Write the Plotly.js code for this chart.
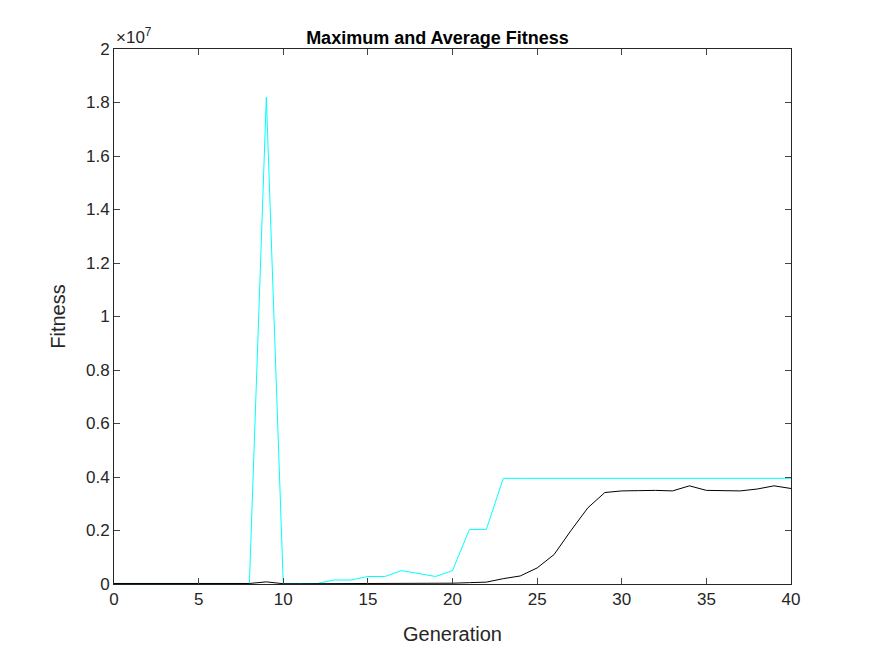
<!DOCTYPE html>
<html><head><script src="https://cdn.plot.ly/plotly-3.0.1.min.js"></script></head>
<body style="margin:0">
<div id="c" style="width:875px;height:656px"></div>
<script>
const generations = Array.from({length:41},(_,i)=>i);
const maxFitness = [0.02,0.02,0.02,0.02,0.02,0.02,0.02,0.02,0.02,18.2,0.02,0.02,0.02,0.15,0.15,0.28,0.28,0.5,0.4,0.28,0.5,2.04,2.04,3.95,3.95,3.95,3.95,3.95,3.95,3.95,3.95,3.95,3.95,3.95,3.95,3.95,3.95,3.95,3.95,3.95,3.95].map(v=>v*1e6);
const avgFitness = [0.02,0.02,0.02,0.02,0.02,0.02,0.02,0.02,0.02,0.08,0.01,0.01,0.01,0.02,0.02,0.02,0.02,0.02,0.02,0.02,0.03,0.05,0.07,0.2,0.3,0.6,1.1,2.0,2.85,3.42,3.48,3.49,3.5,3.48,3.67,3.5,3.48,3.48,3.55,3.67,3.57].map(v=>v*1e6);
const yTicks=[0,0.2,0.4,0.6,0.8,1,1.2,1.4,1.6,1.8,2];
Plotly.newPlot('c',[
 {x:generations,y:maxFitness,mode:'lines',line:{color:'#00ffff',width:1}},
 {x:generations,y:avgFitness,mode:'lines',line:{color:'#000000',width:1}}
],{
 width:875,height:656,showlegend:false,paper_bgcolor:'white',plot_bgcolor:'white',
 margin:{l:114,r:84,t:49,b:72},
 font:{family:'Liberation Sans, Arial',size:17,color:'#262626'},
 title:{text:'<b>Maximum and Average Fitness</b>',x:0.5,y:0.952,xanchor:'center',font:{size:18,color:'#000'}},
 xaxis:{range:[0,40],tickvals:[0,5,10,15,20,25,30,35,40],ticks:'inside',ticklen:6,mirror:'allticks',showline:true,linecolor:'#262626',showgrid:false,zeroline:false,title:{text:'Generation',standoff:18}},
 yaxis:{range:[0,2e7],tickvals:yTicks.map(v=>v*1e7),ticktext:yTicks.map(String),ticks:'inside',ticklen:6,mirror:'allticks',showline:true,linecolor:'#262626',showgrid:false,zeroline:false,title:{text:'Fitness',standoff:14}},
 annotations:[{xref:'paper',yref:'paper',x:0,y:1,xanchor:'left',yanchor:'bottom',showarrow:false,text:'×10<sup>7</sup>',font:{size:17,color:'#262626'}}]
},{displayModeBar:false});
</script></body></html>
